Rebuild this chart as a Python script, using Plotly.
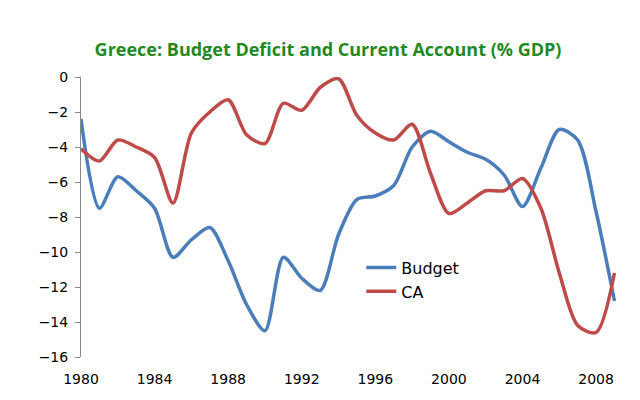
import plotly.graph_objects as go

years = list(range(1980, 2010))
budget = [-2.4, -7.5, -5.7, -6.5, -7.5, -10.3, -9.3, -8.6, -10.5, -13.0, -14.5, -10.3, -11.5, -12.2, -9.0, -7.0, -6.8, -6.2, -4.0, -3.1, -3.7, -4.3, -4.7, -5.6, -7.4, -5.2, -3.0, -3.6, -7.7, -12.8]
ca = [-4.1, -4.8, -3.6, -4.0, -4.6, -7.2, -3.2, -2.0, -1.3, -3.3, -3.8, -1.5, -1.9, -0.6, -0.1, -2.2, -3.2, -3.6, -2.7, -5.5, -7.8, -7.2, -6.5, -6.5, -5.8, -7.5, -11.2, -14.2, -14.6, -11.2]

fig = go.Figure()
fig.add_trace(go.Scatter(x=years, y=budget, name="Budget", mode="lines",
                         line=dict(color="#4a7ebb", width=3.5, shape="spline", smoothing=0.8)))
fig.add_trace(go.Scatter(x=years, y=ca, name="CA", mode="lines",
                         line=dict(color="#be4b48", width=3.5, shape="spline", smoothing=0.8)))
fig.update_layout(
    width=640, height=400, paper_bgcolor="white", plot_bgcolor="white",
    margin=dict(l=73, r=28, t=69, b=51),
    font=dict(family="DejaVu Sans", size=14, color="black"),
    title=dict(text="<b>Greece: Budget Deficit and Current Account (% GDP)</b>", x=0.5, y=0.895,
               xanchor="center", yanchor="middle", font=dict(family="Open Sans", size=18, color="#1f8a1f")),
    xaxis=dict(range=[1980, 2009.3], tickvals=list(range(1980, 2009, 4)), showgrid=False,
               zeroline=False, showline=False, ticks="", ticklabelstandoff=12),
    yaxis=dict(range=[-16, 0], dtick=2, showgrid=False, zeroline=False, showline=True,
               linecolor="#888", ticks="outside", ticklen=5, tickcolor="#888", ticklabelstandoff=4),
    legend=dict(x=0.52, y=0.38, xanchor="left", yanchor="top", bgcolor="rgba(0,0,0,0)",
                font=dict(size=16)),
)
fig.write_html("out.html")
